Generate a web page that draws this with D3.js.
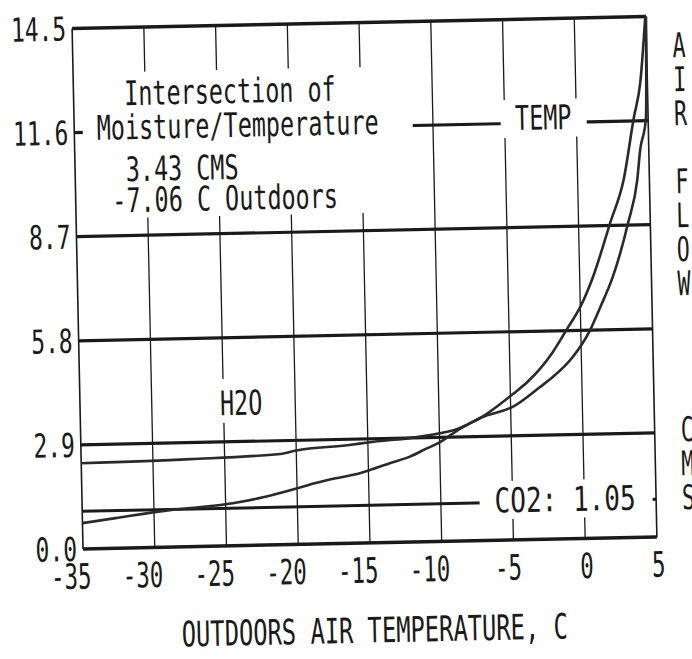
<!DOCTYPE html>
<html>
<head>
<meta charset="utf-8">
<script src="https://cdn.jsdelivr.net/npm/d3@7"></script>
<style>
  html, body { margin: 0; padding: 0; background: #fff; }
  svg { display: block; }
</style>
</head>
<body>
<svg id="chart" width="692" height="659"></svg>
<script>
// Outdoor temperature ticks (C) and air flow ticks (CMS)
var xTicks = [-35, -30, -25, -20, -15, -10, -5, 0, 5];
var yTicks = [0, 2.9, 5.8, 8.7, 11.6, 14.5];
var yTickLabels = ["0.0", "2.9", "5.8", "8.7", "11.6", "14.5"];

// Air flow needed for temperature control
var tempX = [-35, -32.7, -28.9, -24.4, -22.3, -20.1, -18.7, -17.3, -15.9, -14.9, -13.5, -12.1, -10.9, -10.0, -8.6, -7.06, -4.8, -3.8, -2.9, -2.0, -0.9, 0.0, 0.9, 2.2, 3.2, 4.0, 4.5, 4.95];
var tempY = [0.72, 0.84, 1.03, 1.19, 1.34, 1.55, 1.70, 1.82, 1.92, 2.03, 2.21, 2.38, 2.60, 2.76, 3.12, 3.43, 4.07, 4.39, 4.75, 5.20, 5.88, 6.45, 7.25, 8.77, 9.96, 11.68, 12.65, 14.5];

// Air flow needed for moisture control
var h2oX = [-35, -27.4, -21.1, -20.0, -16.3, -15.0, -11.0, -8.6, -7.06, -4.8, -2.9, -2.0, -0.6, 0.65, 1.4, 2.3, 3.45, 4.15, 4.4, 4.85, 5.0];
var h2oY = [2.39, 2.44, 2.53, 2.62, 2.74, 2.80, 2.95, 3.14, 3.43, 3.72, 4.25, 4.52, 5.06, 5.80, 6.44, 7.26, 8.76, 9.95, 10.79, 11.67, 14.5];

// Air flow needed for CO2 control (constant)
var co2Value = 1.05;

var annotationLines = ["Intersection of", "Moisture/Temperature", "3.43 CMS", "-7.06 C Outdoors"];
var xTitle = "OUTDOORS AIR TEMPERATURE, C";
var yTitle = "AIR FLOW   CMS";

// ---------------------------------------------------------------
var svg = d3.select("#chart");
var ink = "#1a1a1a";
var fontFamily = "'DejaVu Sans Mono', 'Liberation Mono', monospace";
var charW = 14.1;

var plotLeft = 77.5, plotRight = 651.5, plotTop = 22.5, plotBottom = 543;

var x = d3.scaleLinear().domain([-35, 5]).range([plotLeft, plotRight]);
var y = d3.scaleLinear().domain([0, 14.5]).range([plotBottom, plotTop]);

// the scanned sheet sits slightly crooked
var g = svg.append("g")
    .attr("transform", "rotate(-1.2," + ((plotLeft + plotRight) / 2) + "," + ((plotTop + plotBottom) / 2) + ")");

// Narrow dot-matrix style text: height from font size, width from char count
function monoText(parent, str, px, cy, anchor, size, cw) {
    size = size || 34;
    cw = cw || charW;
    return parent.append("text")
        .attr("x", px)
        .attr("y", cy + size * 0.36)
        .attr("text-anchor", anchor || "start")
        .attr("textLength", str.length * cw)
        .attr("lengthAdjust", "spacingAndGlyphs")
        .style("font-family", fontFamily)
        .style("font-size", size + "px")
        .style("fill", ink)
        .text(str);
}

// Vertical grid lines (thin)
g.append("g").selectAll("line")
    .data(xTicks.slice(1, -1))
    .enter().append("line")
        .attr("x1", function (d) { return x(d); })
        .attr("x2", function (d) { return x(d); })
        .attr("y1", plotTop)
        .attr("y2", plotBottom)
        .style("stroke", ink)
        .style("stroke-width", 1.3);

// Horizontal grid lines (heavy)
g.append("g").selectAll("line")
    .data(yTicks.slice(1, -1))
    .enter().append("line")
        .attr("x1", plotLeft)
        .attr("x2", plotRight)
        .attr("y1", function (d) { return y(d); })
        .attr("y2", function (d) { return y(d); })
        .style("stroke", ink)
        .style("stroke-width", 3.2);

// Frame: heavy top and bottom, light sides
g.append("line").attr("x1", plotLeft).attr("x2", plotRight).attr("y1", plotTop).attr("y2", plotTop)
    .style("stroke", ink).style("stroke-width", 3.5);
g.append("line").attr("x1", plotLeft).attr("x2", plotRight).attr("y1", plotBottom).attr("y2", plotBottom)
    .style("stroke", ink).style("stroke-width", 3.5);
g.append("line").attr("x1", plotLeft).attr("x2", plotLeft).attr("y1", plotTop).attr("y2", plotBottom)
    .style("stroke", ink).style("stroke-width", 1.6);
g.append("line").attr("x1", plotRight).attr("x2", plotRight).attr("y1", plotTop).attr("y2", plotBottom)
    .style("stroke", ink).style("stroke-width", 1.6);

// CO2 line
g.append("line")
    .attr("x1", x(-35)).attr("x2", x(5))
    .attr("y1", y(co2Value)).attr("y2", y(co2Value))
    .style("stroke", ink)
    .style("stroke-width", 3);

// Curves
var line = d3.line()
    .x(function (d) { return x(d[0]); })
    .y(function (d) { return y(d[1]); })
    .curve(d3.curveMonotoneX);

var series = [
    d3.zip(tempX, tempY),
    d3.zip(h2oX, h2oY)
];
g.append("g").selectAll("path")
    .data(series)
    .enter().append("path")
        .attr("d", line)
        .style("fill", "none")
        .style("stroke", "#2a2a2a")
        .style("stroke-width", 2.6);

// Labels sitting on white boxes that blank the grid beneath
var labels = [
    { lines: annotationLines, offsets: [2, 0, 2, 1], x: 100, ys: [88, 122, 164, 195],
      box: [86, 67, 416, 213] },
    { lines: ["TEMP"], offsets: [0], x: 518.5, ys: [121], box: [504, 103, 590, 141] },
    { lines: ["H2O"], offsets: [0], x: 217.5, ys: [400], box: [204, 376, 272, 420] },
    { lines: ["CO2:  1.05"], offsets: [0], x: 490, ys: [503], box: [475, 484, 648, 522] }
];

labels.forEach(function (lab) {
    g.append("rect")
        .attr("x", lab.box[0])
        .attr("y", lab.box[1])
        .attr("width", lab.box[2] - lab.box[0])
        .attr("height", lab.box[3] - lab.box[1])
        .style("fill", "#fff");
    lab.lines.forEach(function (s, i) {
        monoText(g, s, lab.x + lab.offsets[i] * charW, lab.ys[i], "start");
    });
});

// Y tick labels
yTicks.forEach(function (d, i) {
    monoText(g, yTickLabels[i], plotLeft - 6, y(d), "end", 33, 13.8);
});

// X tick labels, last character centred on the tick
xTicks.forEach(function (d) {
    monoText(g, String(d), x(d) + 8, plotBottom + 27, "end", 35, 13.5);
});

// X axis title
monoText(g, xTitle, (plotLeft + plotRight) / 2 + 3, 630, "middle", 35, 14.3);

// Y axis title, stacked letters down the right side ("CMS" sits a bit lower)
yTitle.split("").forEach(function (c, i) {
    if (c === " ") return;
    var shift = i > 8 ? 10 : 0;
    monoText(g, c, 684, 51.6 + i * 34 + shift, "middle", 34, 13);
});
</script>
</body>
</html>
